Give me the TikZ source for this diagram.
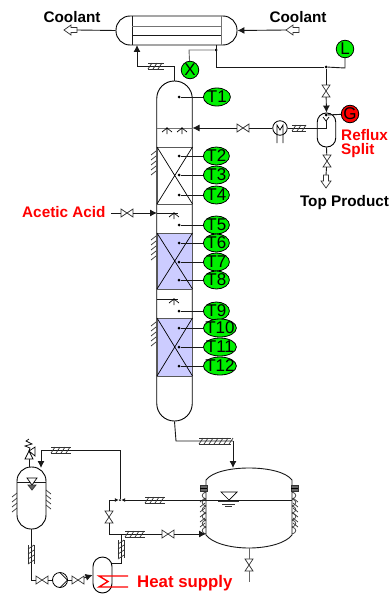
\documentclass[tikz,border=0pt]{standalone}
\usepackage{fontspec}
\setmainfont{Liberation Sans}
\usetikzlibrary{arrows.meta}
\usetikzlibrary{shapes.geometric}
\definecolor{packblue}{RGB}{204,204,255}
\definecolor{taggreen}{RGB}{0,240,0}
\tikzset{
    line/.style={line width=0.9pt,draw=black!90},
    flow/.style={line,-{Latex[length=7pt,width=7pt]}},
    thinline/.style={line width=0.7pt,draw=black!80},
    vesselnode/.style={draw,line width=0.9pt,inner sep=0pt,fill=white},
    tagnode/.style={ellipse,draw,line width=0.8pt,fill=taggreen,inner sep=0pt,minimum height=18pt,font=\fontsize{17}{17}\selectfont},
    dotnode/.style={circle,fill=black,inner sep=0pt,minimum size=3pt},
    titlelabel/.style={font=\fontsize{15.3}{15.3}\selectfont\bfseries,inner sep=0pt},
    redlabel/.style={titlelabel,text=red,align=left},
    pics/valve/.style={code={
        \node[circle,inner sep=0pt,minimum size=12pt] (-c) {};
        \draw[thinline,fill=white] (-6,-4) -- (6,4) -- (6,-4) -- (-6,4) -- cycle;
    }},
    pics/outarrow/.style={code={
        \draw[thinline,fill=white] (0,0) -- (7,-5) -- (7,-2.5) -- (13,-2.5) -- (13,2.5) -- (7,2.5) -- (7,5) -- cycle;
        \coordinate (-tip) at (0,0);
        \coordinate (-tail) at (13,0);
    }},
    pics/hatchh/.style={code={
        \draw[thinline] (0,-3) -- (#1,-3) (0,3) -- (#1,3);
        \foreach \t in {2,7,...,#1} \draw[thinline] (\t-2,3) -- (\t+2,-3);
    }},
    pics/hatchv/.style={code={
        \draw[thinline] (-3,0) -- (-3,#1) (3,0) -- (3,#1);
        \foreach \t in {2,7,...,#1} \draw[thinline] (-3,\t+2) -- (3,\t-2);
    }},
    pics/hatchwall/.style={code={
        \foreach \t in {0,5,...,#1} \draw[thinline] (-5,\t+3) -- (0,\t-1);
    }},
    pics/spray/.style={code={
        \draw[thinline,black] (0,-1) -- (0,6) (-5,4) -- (0,0) -- (5,4);
    }}
}
\begin{document}
\begin{tikzpicture}[x=1pt,y=-1pt]
    \useasboundingbox (0,0) rectangle (390,594);

    \node[titlelabel] (coolantL) at (72,17) {Coolant};
    \node[titlelabel] (coolantR) at (298,17) {Coolant};
    \node[titlelabel] (topProduct) at (344.5,203) {Top Product};
    \node[redlabel,anchor=west] (acetic) at (22,212) {Acetic Acid};
    \node[redlabel,anchor=north west] (reflux) at (341,129) {Reflux\\[-1.3pt]Split};
    \node[redlabel,anchor=west,font=\fontsize{16.8}{16.8}\selectfont\bfseries] (heat) at (137,583) {Heat supply};

    % overhead condenser
    \node[vesselnode,rounded corners=14pt,minimum width=121pt,minimum height=29pt] (condenser) at (176.5,30.5) {};
    \draw[line] (132,16) -- (132,45) (132,35) -- (221,35);
    \draw[line,black!55] (132,26) -- (221,26) (221,16) -- (221,45);
    \pic (outL) at (64,30) {outarrow};
    \pic (inR) at (286,30) {outarrow};
    \draw[line] (condenser.west) -- (outL-tail);
    \draw[flow] (inR-tip) -- (condenser.east);

    % column
    \node[vesselnode,rounded corners=17.5pt,minimum width=35.5pt,minimum height=340pt] (column) at (174.5,251) {};
    \foreach \ya/\yb/\col in {147/204/white,233/289/packblue,318/376/packblue}{
        \draw[line,black!65,fill=\col] (157,\ya) rectangle (192.5,\yb);
        \draw[thinline,black] (157,\ya) -- (192.5,\yb) (157,\yb) -- (192.5,\ya);
    }
    \foreach \y in {152,237,323} \pic at (156,\y) {hatchwall=24};
    \draw[line,black!55] (157,128) -- (192.5,128);
    \pic at (167,128) {spray};
    \pic at (182,128) {spray};
    \coordinate (feedEnd) at (178,213);
    \coordinate (sideEnd) at (157,299);
    \coordinate (sideTip) at (178,299);
    \draw[line] (sideEnd) -- (sideTip);
    \pic at (174,299) {spray};
    \draw[line] (157,213) -- (feedEnd);
    \pic at (174,213) {spray};

    % temperature tags
    \foreach \n/\y/\w/\x in {1/97/27/203,2/156/26/203,3/175/26/203,4/195/26/203,5/225/26/203,6/243/26/203,7/262/26/203,8/280/26/203,9/311/26/203,10/328/33/203,11/347/33/203,12/366/33/203}{
        \node[dotnode] (d\n) at (179,\y) {};
        \node[tagnode,anchor=west,minimum width=\w pt] (T\n) at (\x,\y) {\makebox[0pt]{T\n}};
        \draw[line] (d\n) -- (T\n);
    }

    % vapour line and reflux
    \coordinate (vapA) at (174.5,66);
    \coordinate (vapB) at (137,66);
    \coordinate (condIn) at (137,45);
    \draw[line] (column.north) -- (vapA) -- (vapB);
    \draw[flow] (vapB) -- (condIn);
    \pic at (148,66) {hatchh=16};

    \node[dotnode] (junTop) at (216,50) {};
    \coordinate (condOut) at (216,45);
    \coordinate (junMid) at (216,67);
    \node[dotnode] (junRight) at (326,67) {};
    \node[tagnode,circle,minimum size=17.5pt,minimum height=17.5pt] (X) at (190,70) {\makebox[0pt]{X}};
    \node[tagnode,circle,minimum size=17.5pt,minimum height=17.5pt] (L) at (345,49) {\makebox[0pt]{L}};
    \node[tagnode,circle,minimum size=17.5pt,minimum height=17.5pt,fill=red] (G) at (350,114) {\makebox[0pt]{G}};
    \coordinate (xUp) at (189,50);
    \draw[line,black!60] (X) -- (xUp) -- (junTop);
    \draw[line] (condOut) -- (junMid) -- (junRight);
    \coordinate (lBend) at (345,68);
    \draw[line] (junRight) -- (lBend) -- (L);

    \node[vesselnode,rounded corners=9pt,minimum width=18.5pt,minimum height=34pt] (drum) at (326.5,130) {};
    \pic[rotate=90] (vDrum) at (326,91) {valve};
    \draw[line] (junRight) -- (vDrum-c);
    \draw[flow] (vDrum-c) -- (drum.north);
    \node[dotnode] (junDrum) at (326,115) {};
    \draw[line] (junDrum) -- (G);
    \draw[thinline,black] (323,117) -- (326,121) -- (329,117);
    \coordinate (drumPipe) at (326,121);
    \coordinate (drumLow) at (326,128);

    \node[circle,draw,line width=0.8pt,fill=white,inner sep=0pt,minimum size=14.5pt] (cooler) at (280,128) {};
    \draw[thinline,black] (277,143) -- (277,125) -- (280,130) -- (283,125) -- (283,143);
    \pic (vReflux) at (243,128) {valve};
    \draw[line] (drumPipe) -- (drumLow) -- (cooler);
    \pic at (292,128) {hatchh=14};
    \draw[line] (cooler) -- (vReflux-c);
    \coordinate (colReflux) at (192.5,128);
    \draw[flow] (vReflux-c) -- (colReflux);

    \pic[rotate=90] (vTop) at (327,161) {valve};
    \pic[rotate=90] (outTop) at (326,188) {outarrow};
    \draw[line] (drum.south) -- (vTop-c);
    \draw[line] (vTop-c) -- (outTop-tail);

    % feed
    \coordinate (feedStart) at (111,213);
    \coordinate (feedIn) at (157,213);
    \pic (vFeed) at (127,213) {valve};
    \draw[line] (feedStart) -- (vFeed-c);
    \draw[flow] (vFeed-c) -- (feedIn);

    % still pot
    \coordinate (botA) at (176,441);
    \coordinate (botB) at (233,441);
    \coordinate (potIn) at (233,468);
    \draw[line] (column.south) -- (botA) -- (botB);
    \draw[flow] (botB) -- (potIn);
    \pic at (199,441) {hatchh=32};
    \draw[line,fill=white] (206,480) .. controls (212,472) and (230,468) .. (249,468) .. controls (268,468) and (286,472) .. (292,480) -- (292,535) .. controls (286,543) and (268,548) .. (249,548) .. controls (230,548) and (212,543) .. (206,535) -- cycle;
    \foreach \y in {492,499,506,513,520,527}{
        \draw[thinline] (206,\y) .. controls (201,\y+1) and (201,\y+6) .. (206,\y+7);
        \draw[thinline] (292,\y) .. controls (297,\y+1) and (297,\y+6) .. (292,\y+7);
    }
    \pic at (205,499) {hatchwall=28};
    \pic[xscale=-1] at (293,499) {hatchwall=28};
    \draw[fill=black!60,thinline] (200,485) rectangle (207,491) (291,485) rectangle (298,491);
    \draw[thinline,black] (200,488) -- (207,488) (291,488) -- (298,488);
    \draw[thinline,black,fill=white] (221,492) -- (237,492) -- (229,500) -- cycle;
    \draw[thinline] (218,501.5) -- (239,501.5) (222,504) -- (235,504) (225,506) -- (232,506);
    \coordinate (potOut) at (249,548);
    \coordinate (drain) at (249,582);
    \pic[rotate=90] (vDrain) at (249,565) {valve};
    \draw[line,black!60] (potOut) -- (vDrain-c);
    \draw[line,black!60] (vDrain-c) -- (drain);

    % recycle loop
    \node[dotnode,minimum size=2pt] (junLoop) at (120,500) {};
    \coordinate (potLevelR) at (292,500);
    \coordinate (loopA) at (109,500);
    \coordinate (loopB) at (109,534);
    \coordinate (potBack) at (206,534);
    \coordinate (topA) at (120,450);
    \coordinate (topB) at (41,450);
    \coordinate (tankIn) at (41,468);
    \draw[-{Latex[length=4pt,width=4pt]},line] (potLevelR) -- (junLoop);
    \draw[-{Latex[length=4pt,width=4pt]},line] (loopA) -- (junLoop);
    \draw[line] (junLoop) -- (topA) -- (topB);
    \draw[flow] (topB) -- (tankIn);
    \pic at (51,450) {hatchh=20};
    \pic at (145,500) {hatchh=20};
    \pic[rotate=90] (vLoop) at (109,517) {valve};
    \draw[line] (loopA) -- (vLoop-c);
    \draw[line] (vLoop-c) -- (loopB);
    \pic (vBack) at (168,534) {valve};
    \draw[line] (loopB) -- (vBack-c);
    \draw[flow] (vBack-c) -- (potBack);
    \pic at (125,534) {hatchh=20};

    % feed tank
    \node[vesselnode,rounded corners=14pt,minimum width=29pt,minimum height=62pt] (tank) at (31.5,498) {};
    \draw[line] (17,482) -- (46,482);
    \draw[thinline,black,fill=white] (27,478) -- (37,478) -- (32,485) -- cycle;
    \draw[thinline,fill=black!60] (28,485) -- (36,485) -- (32,490) -- cycle;
    \pic at (17,494) {hatchwall=18};
    \pic[xscale=-1] at (46,491) {hatchwall=18};
    \coordinate (reliefFoot) at (29,459);
    \coordinate (tankRelief) at (29,467);
    \draw[line] (reliefFoot) -- (tankRelief);
    \draw[thinline,black,fill=white] (25,459) -- (33,459) -- (29,451) -- cycle (29,451) -- (35,447) -- (35,456) -- cycle;
    \draw[thinline,black] (29,451) -- (30,448) -- (25,446) -- (32,444) -- (26,441) -- (29,439);
    \coordinate (tankOut) at (31,529);
    \coordinate (pumpLine) at (31,580);
    \draw[line] (tankOut) -- (pumpLine);
    \pic at (31,545) {hatchv=19};
    \pic (vPumpA) at (42,580) {valve};
    \node[circle,draw,line width=0.8pt,fill=white,inner sep=0pt,minimum size=15pt] (pump) at (60,580) {};
    \draw[thinline,black] (60,572.5) -- (67.5,580) -- (60,587.5);
    \pic (vPumpB) at (78,580) {valve};
    \draw[line] (pumpLine) -- (vPumpA-c);
    \draw[line] (vPumpA-c) -- (pump);
    \draw[line] (pump) -- (vPumpB-c);

    % reboiler
    \node[vesselnode,rounded corners=9.5pt,minimum width=19pt,minimum height=36pt] (reboiler) at (102.5,575) {};
    \draw[flow] (vPumpB-c) -- (reboiler.west);
    \coordinate (rebOut) at (112,563);
    \coordinate (rebA) at (121,563);
    \coordinate (rebB) at (121,534);
    \draw[line] (rebOut) -- (rebA) -- (rebB);
    \pic at (121,540) {hatchv=18};
    \draw[line width=1.4pt,red] (128,576) -- (99,576) -- (108,581.5) -- (99,587) -- (128,587);
\end{tikzpicture}
\end{document}
